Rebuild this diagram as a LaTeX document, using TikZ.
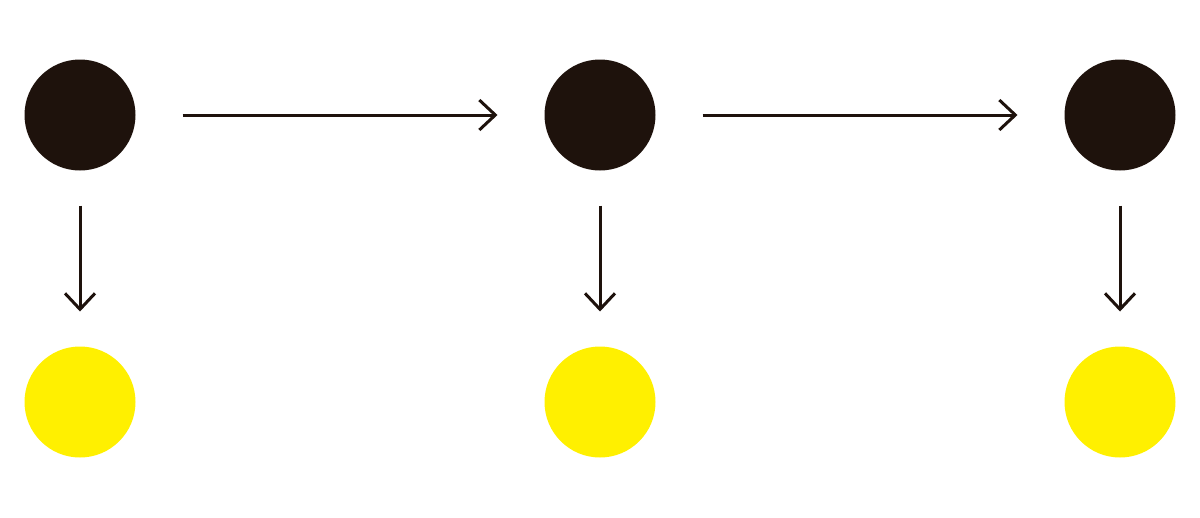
\documentclass[tikz,border=0pt]{standalone}
\usetikzlibrary{arrows.meta}
\definecolor{inkdark}{RGB}{30,18,12}
\definecolor{sunyellow}{RGB}{255,240,0}
\begin{document}
\begin{tikzpicture}[x=1pt,y=-1pt,
  blackdot/.style={circle,fill=inkdark,draw=none,minimum size=111pt,inner sep=0pt,outer sep=0pt},
  yellowdot/.style={circle,fill=sunyellow,draw=none,minimum size=111pt,inner sep=0pt,outer sep=0pt},
  hconn/.style={draw=inkdark,line width=3pt,-{Straight Barb[length=16pt,width=30pt,line width=3pt]},shorten <=47pt,shorten >=47pt},
  vconn/.style={draw=inkdark,line width=3pt,-{Straight Barb[length=16pt,width=30pt,line width=3pt]},shorten <=35pt,shorten >=35pt}]
\useasboundingbox (0,0) rectangle (1200,517);
\node[blackdot] (b1) at (80,115) {};
\node[blackdot] (b2) at (600,115) {};
\node[blackdot] (b3) at (1120,115) {};
\node[yellowdot] (y1) at (80,402) {};
\node[yellowdot] (y2) at (600,402) {};
\node[yellowdot] (y3) at (1120,402) {};
\draw[hconn] (b1) -- (b2);
\draw[hconn] (b2) -- (b3);
\draw[vconn] (b1) -- (y1);
\draw[vconn] (b2) -- (y2);
\draw[vconn] (b3) -- (y3);
\end{tikzpicture}
\end{document}
